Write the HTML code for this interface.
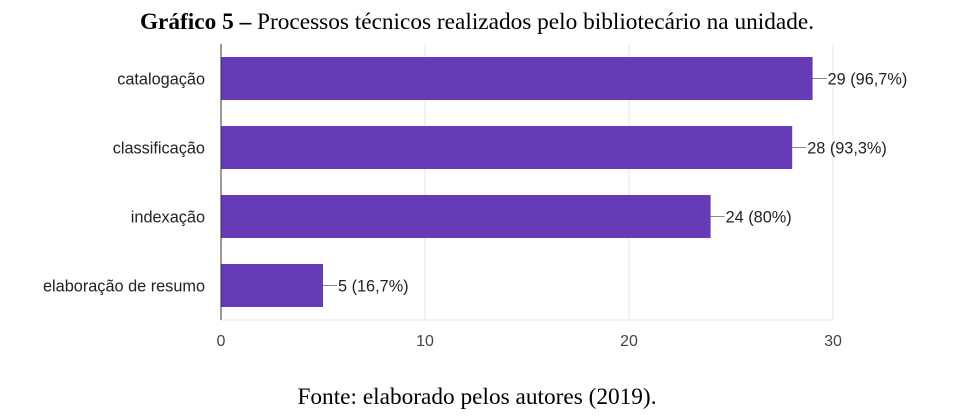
<!DOCTYPE html>
<html><head><meta charset="utf-8"><style>
body{margin:0;background:#fff;width:972px;height:418px;overflow:hidden}
svg{display:block}
</style></head><body>
<svg width="972" height="418">
<text x="477" y="29" text-anchor="middle" font-family="Liberation Serif, serif" font-size="23.3" fill="#000"><tspan font-weight="bold">Gráfico 5 –</tspan> Processos técnicos realizados pelo bibliotecário na unidade.</text>
<g id="plot"></g>
<text x="477" y="404" text-anchor="middle" font-family="Liberation Serif, serif" font-size="23.3" fill="#000">Fonte: elaborado pelos autores (2019).</text>
</svg>
<script>
const categories=["catalogação","classificação","indexação","elaboração de resumo"];
const values=[29,28,24,5];
const labels=["29 (96,7%)","28 (93,3%)","24 (80%)","5 (16,7%)"];
const ticks=[0,10,20,30];
const NS="http://www.w3.org/2000/svg";
const plotG=document.getElementById('plot');
const x0=221,xs=20.4,plotTop=44,band=69,bh=43,plotBottom=320;
const X=v=>x0+v*xs;
function mk(t,a,txt){const e=document.createElementNS(NS,t);for(const k in a)e.setAttribute(k,a[k]);if(txt!=null)e.textContent=txt;plotG.appendChild(e);return e;}
ticks.forEach(t=>{
 if(t>0){const l=mk('line',{x1:X(t),x2:X(t),y1:plotTop,y2:plotBottom,stroke:'#e6e6e6'});
 
 }
 const tx=mk('text',{x:X(t),y:346,'text-anchor':'middle','font-family':'Liberation Sans, sans-serif','font-size':16,fill:'#444'},t);
 
 
});
const bl=mk('line',{x1:x0,x2:X(30),y1:plotBottom,y2:plotBottom,stroke:'#e6e6e6'});


categories.forEach((c,i)=>{
 const y=plotTop+13+i*band;
 const r=mk('rect',{x:x0,y:y,width:X(values[i])-x0,height:bh,fill:'#673ab7'});
 
 
 const cl=mk('text',{x:205,y:y+bh/2+6,'text-anchor':'end','font-family':'Liberation Sans, sans-serif','font-size':16.3,fill:'#222'},c);
 
 
 const ln=mk('line',{x1:X(values[i]),x2:X(values[i])+14,y1:y+bh/2,y2:y+bh/2,stroke:'#888'});
 
 
 const vl=mk('text',{x:X(values[i])+15,y:y+bh/2+6,'font-family':'Liberation Sans, sans-serif','font-size':16.3,fill:'#222'},labels[i]);
 
 
});
const ax=mk('line',{x1:x0,x2:x0,y1:plotTop,y2:plotBottom,stroke:'#333'});


</script>
</body></html>
